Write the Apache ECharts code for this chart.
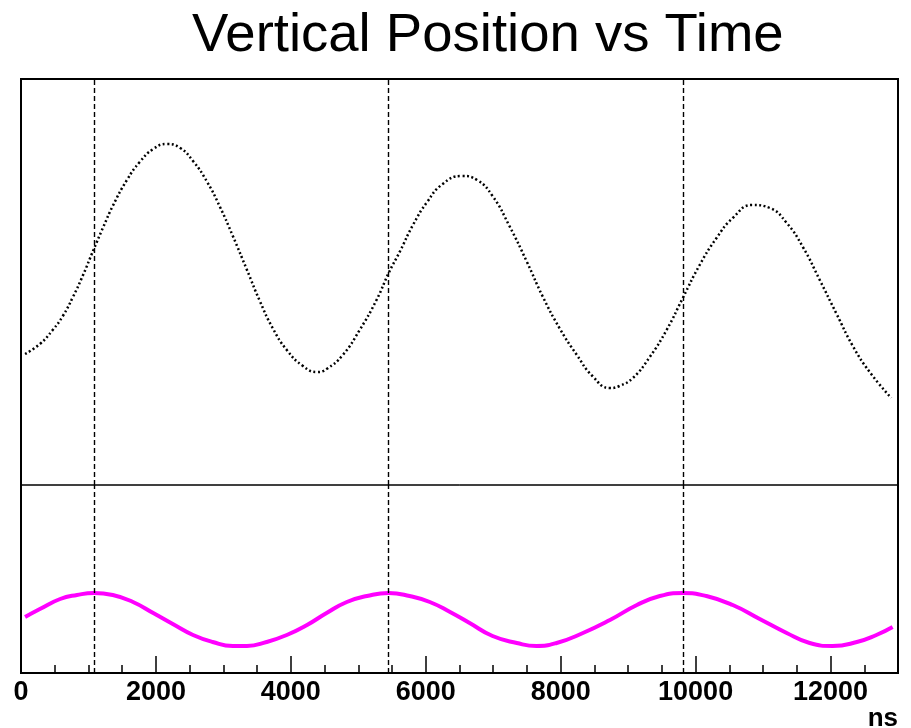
<!DOCTYPE html>
<html>
<head>
<meta charset="utf-8">
<script src="https://cdn.jsdelivr.net/npm/echarts@6/dist/echarts.min.js"></script>
<style>html,body{margin:0;padding:0;background:#fff;}#c{width:911px;height:728px;}</style>
</head>
<body>
<div id="c"></div>
<script>
// Top panel: vertical position (arbitrary units)
const timeTop = [60,280,470,620,770,920,1080,1220,1360,1570,1760,1960,2160,2360,2550,2760,2950,3140,3350,3540,3730,3940,4180,4390,4530,4770,5020,5270,5450,5620,5810,6020,6250,6530,6760,6990,7240,7500,7730,7990,8240,8470,8730,8870,9070,9320,9570,9810,10060,10310,10550,10840,11100,11350,11590,11840,12090,12330,12580,12900];
const posTop = [131,141,155,169,188,210,236,258,279,305,323,336,341,337,324,303,278,249,215,184,157,135,119,113,116,130,155,185,212,234,260,283,301,309,305,289,259,223,189,156,130,109,97,99,107,128,155,187,220,247,267,280,277,262,238,205,171,139,113,87];
// Bottom panel: reference signal
const timeBot = [60,280,580,830,1080,1360,1660,1960,2250,2550,2840,3140,3350,3640,3940,4240,4530,4830,5130,5450,5760,6060,6360,6650,6990,7350,7640,7940,8330,8730,9130,9470,9810,10160,10550,10950,11350,11690,12030,12390,12680,12920];
const valBot = [56,64,74,78,80,78,71,60,49,38,31,27,27,31,38,48,60,71,77,80,77,71,61,50,37,30,27,30,40,53,68,77,80,77,68,54,40,30,27,31,38,46];
// Vertical marker times (ns)
const markerTimes = [1080, 5450, 9820];
const titleText = 'Vertical Position vs Time';
const xUnit = 'ns';

const topData = timeTop.map((t, i) => [t, posTop[i]]);
const botData = timeBot.map((t, i) => [t, valBot[i]]);
const markLineDef = {
  silent: true, symbol: 'none', label: {show: false},
  lineStyle: {color: '#000', width: 1.4, type: [5, 3]},
  data: markerTimes.map(t => ({xAxis: t}))
};

const chart = echarts.init(document.getElementById('c'), null, {renderer: 'canvas'});
chart.setOption({
  animation: false,
  backgroundColor: '#fff',
  title: {
    text: titleText, left: 187, top: 3,
    textStyle: {fontFamily: 'Liberation Sans, Arial, sans-serif', fontSize: 54.5, fontWeight: 'normal', color: '#000'}
  },
  grid: [
    {left: 21, top: 79, width: 877, height: 406, show: true, borderColor: '#000', borderWidth: 1},
    {left: 21, top: 485, width: 877, height: 188, show: true, borderColor: '#000', borderWidth: 1}
  ],
  xAxis: [
    {type: 'value', gridIndex: 0, min: 0, max: 13000, interval: 2000, show: false},
    {type: 'value', gridIndex: 1, min: 0, max: 13000, interval: 2000,
     axisLine: {show: true, lineStyle: {color: '#000', width: 2}},
     axisTick: {show: true, inside: true, length: 17, lineStyle: {color: '#000', width: 1.5}},
     minorTick: {show: true, splitNumber: 4, length: 8, lineStyle: {color: '#000', width: 1.5}},
     splitLine: {show: false},
     axisLabel: {show: true, margin: 6, color: '#000', fontFamily: 'Liberation Sans, Arial, sans-serif', fontWeight: 'bold', fontSize: 27,
       showMaxLabel: false, formatter: v => String(v)}
    }
  ],
  yAxis: [
    {type: 'value', gridIndex: 0, min: 0, max: 406, show: false},
    {type: 'value', gridIndex: 1, min: 0, max: 188, show: false}
  ],
  graphic: [
    {type: 'rect', shape: {x: 21, y: 79, width: 877, height: 594}, style: {fill: 'none', stroke: '#000', lineWidth: 2}, z: 100},
    {type: 'text', right: 13, top: 706, style: {text: xUnit, fill: '#000', font: 'bold 26px "Liberation Sans", Arial, sans-serif'}, z: 100}
  ],
  series: [
    {type: 'line', xAxisIndex: 0, yAxisIndex: 0, data: topData, smooth: 0.5, symbol: 'none',
     lineStyle: {color: '#000', width: 2.5, type: [2, 2.5], cap: 'butt'}, markLine: markLineDef},
    {type: 'line', xAxisIndex: 1, yAxisIndex: 1, data: botData, smooth: 0.5, symbol: 'none',
     lineStyle: {color: '#ff00ff', width: 4}, markLine: markLineDef}
  ]
});
</script>
</body>
</html>
